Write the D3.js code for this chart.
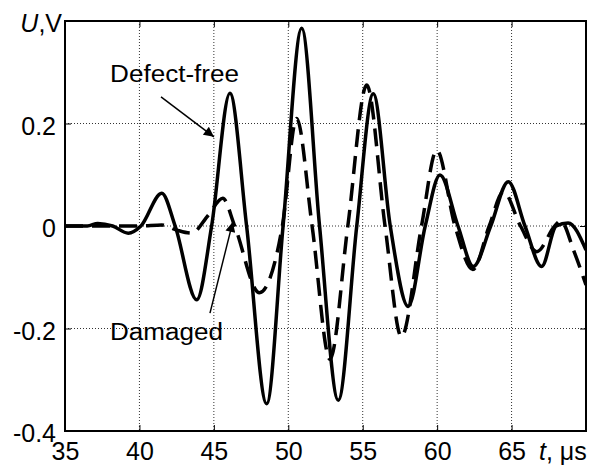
<!DOCTYPE html>
<html>
<head>
<meta charset="utf-8">
<script src="https://cdn.jsdelivr.net/npm/d3@7/dist/d3.min.js"></script>
<style>
  body { margin: 0; background: #fff; }
  text { font-family: Arial, "Liberation Sans", sans-serif; fill: #000; }
</style>
</head>
<body>
<div id="chart"></div>
<script>
// signal of the defect-free plate (t in microseconds, U in volts)
var defectFreeT = [35, 36.5, 37.2, 38.2, 39.25, 40.1, 41.5, 42.4, 43.85, 44.85, 46.08, 47.2, 48.55, 49.65, 50.9, 52.1, 53.36, 54.6, 55.71, 56.85, 58.06, 59.2, 60.19, 61.4, 62.43, 63.6, 64.78, 65.9, 67.02, 68.0, 68.8, 70];
var defectFreeU = [0, 0, 0.005, 0, -0.014, 0, 0.064, 0, -0.144, 0, 0.259, 0, -0.347, 0, 0.386, 0, -0.34, 0, 0.258, 0, -0.157, 0, 0.0995, 0, -0.079, 0, 0.0865, 0, -0.079, 0, 0.006, -0.047];

// signal of the damaged plate
var damagedT = [35, 40.0, 41.5, 42.5, 43.5, 44.6, 45.6, 46.4, 48.05, 49.6, 50.56, 51.6, 52.8, 54.0, 55.27, 56.5, 57.6, 58.95, 59.97, 61.2, 62.4, 63.5, 64.45, 65.6, 66.7, 67.9, 68.3, 69.2, 70];
var damagedU = [0, 0, 0.002, -0.008, -0.014, 0.02, 0.054, 0, -0.13, 0, 0.21, 0, -0.26, 0, 0.275, 0, -0.216, 0, 0.148, 0, -0.085, 0, 0.067, 0, -0.05, 0, 0.01, -0.05, -0.115];

var xTicks = [35, 40, 45, 50, 55, 60, 65, 70];
var xTickLabels = ["35", "40", "45", "50", "55", "60", "65", ""];
var yTicks = [-0.4, -0.2, 0, 0.2, 0.4];
var yTickLabels = ["-0.4", "-0.2", "0", "0.2", ""];

var margin = { top: 21, right: 16, bottom: 35, left: 65 },
    width = 602 - margin.left - margin.right,
    height = 466 - margin.top - margin.bottom;

var svg = d3.select("#chart")
    .append("svg")
    .attr("width", 602)
    .attr("height", 466)
    .append("g")
    .attr("transform", "translate(" + margin.left + "," + margin.top + ")");

var x = d3.scaleLinear().domain([35, 70]).range([0, width]);
var y = d3.scaleLinear().domain([-0.4, 0.4]).range([height, 0]);

// dotted grid
svg.append("g")
    .selectAll("line")
    .data(xTicks.slice(1, -1))
    .enter()
    .append("line")
    .attr("x1", d => x(d)).attr("x2", d => x(d))
    .attr("y1", 0).attr("y2", height)
    .attr("stroke", "#333")
    .attr("stroke-width", 1)
    .attr("stroke-dasharray", "1,2");

svg.append("g")
    .selectAll("line")
    .data(yTicks.slice(1, -1))
    .enter()
    .append("line")
    .attr("y1", d => y(d)).attr("y2", d => y(d))
    .attr("x1", 0).attr("x2", width)
    .attr("stroke", "#333")
    .attr("stroke-width", 1)
    .attr("stroke-dasharray", "1,2");

// curves, clipped to the plot box
svg.append("clipPath").attr("id", "clip")
    .append("rect").attr("width", width).attr("height", height);

var line = d3.line()
    .x(d => x(d[0]))
    .y(d => y(d[1]))
    .curve(d3.curveMonotoneX);

var defectFree = defectFreeT.map((t, i) => [t, defectFreeU[i]]);
var damaged = damagedT.map((t, i) => [t, damagedU[i]]);

var curves = svg.append("g").attr("clip-path", "url(#clip)");

curves.append("path")
    .datum(damaged)
    .attr("d", line)
    .attr("fill", "none")
    .attr("stroke", "#000")
    .attr("stroke-width", 3.5)
    .attr("stroke-dasharray", "18,9");

curves.append("path")
    .datum(defectFree)
    .attr("d", line)
    .attr("fill", "none")
    .attr("stroke", "#000")
    .attr("stroke-width", 3.5);

// axes: ticks pointing inwards on all four sides
var xAxis = svg.append("g")
    .attr("transform", "translate(0," + height + ")")
    .call(d3.axisBottom(x).tickValues(xTicks).tickSize(-6).tickPadding(12)
        .tickFormat((d, i) => xTickLabels[i]));
var xAxisTop = svg.append("g")
    .call(d3.axisTop(x).tickValues(xTicks).tickSize(-6).tickFormat(""));
var yAxis = svg.append("g")
    .call(d3.axisLeft(y).tickValues(yTicks).tickSize(-6).tickPadding(9)
        .tickFormat((d, i) => yTickLabels[i]));
var yAxisRight = svg.append("g")
    .attr("transform", "translate(" + width + ",0)")
    .call(d3.axisRight(y).tickValues(yTicks).tickSize(-6).tickFormat(""));

svg.selectAll(".domain").remove();
svg.selectAll(".tick line").attr("stroke", "#000").attr("stroke-width", 1);
svg.selectAll(".tick text")
    .style("font-size", "25px")
    .style("font-family", "Arial, 'Liberation Sans', sans-serif")
    .attr("fill", "#000");
xAxis.selectAll(".tick text").attr("dy", "0.71em").attr("y", 11);
yAxis.selectAll(".tick text").attr("dy", "0.42em");

// plot frame
svg.append("rect")
    .attr("width", width)
    .attr("height", height)
    .attr("fill", "none")
    .attr("stroke", "#000")
    .attr("stroke-width", 2);

// axis titles
var yTitle = svg.append("text")
    .attr("x", -3)
    .attr("y", 11)
    .attr("text-anchor", "end")
    .style("font-size", "25px");
yTitle.append("tspan").style("font-style", "italic").text("U");
yTitle.append("tspan").text(",V");

var xTitle = svg.append("text")
    .attr("x", 474)
    .attr("y", height + 29)
    .style("font-size", "25px");
xTitle.append("tspan").style("font-style", "italic").text("t");
xTitle.append("tspan").text(", \u03bcs");

// annotations with arrows
svg.append("defs").append("marker")
    .attr("id", "arrow")
    .attr("viewBox", "0 0 10 10")
    .attr("refX", 10).attr("refY", 5)
    .attr("markerWidth", 16).attr("markerHeight", 10)
    .attr("markerUnits", "userSpaceOnUse")
    .attr("orient", "auto")
    .append("path")
    .attr("d", "M0,0 L10,5 L0,10 Z")
    .attr("fill", "#000");

svg.append("line")
    .attr("x1", x(41.45)).attr("y1", y(0.252))
    .attr("x2", x(45.0)).attr("y2", y(0.174))
    .attr("stroke", "#000").attr("stroke-width", 1.5)
    .attr("marker-end", "url(#arrow)");

svg.append("line")
    .attr("x1", x(44.74)).attr("y1", y(-0.170))
    .attr("x2", x(46.27)).attr("y2", y(0.008))
    .attr("stroke", "#000").attr("stroke-width", 1.5)
    .attr("marker-end", "url(#arrow)");

svg.append("text")
    .attr("x", x(42.36))
    .attr("y", y(0.2816))
    .attr("text-anchor", "middle")
    .attr("textLength", 129)
    .attr("lengthAdjust", "spacingAndGlyphs")
    .style("font-size", "23px")
    .text("Defect-free");

svg.append("text")
    .attr("x", x(41.82))
    .attr("y", y(-0.222))
    .attr("text-anchor", "middle")
    .attr("textLength", 113)
    .attr("lengthAdjust", "spacingAndGlyphs")
    .style("font-size", "23px")
    .text("Damaged");
</script>
</body>
</html>
